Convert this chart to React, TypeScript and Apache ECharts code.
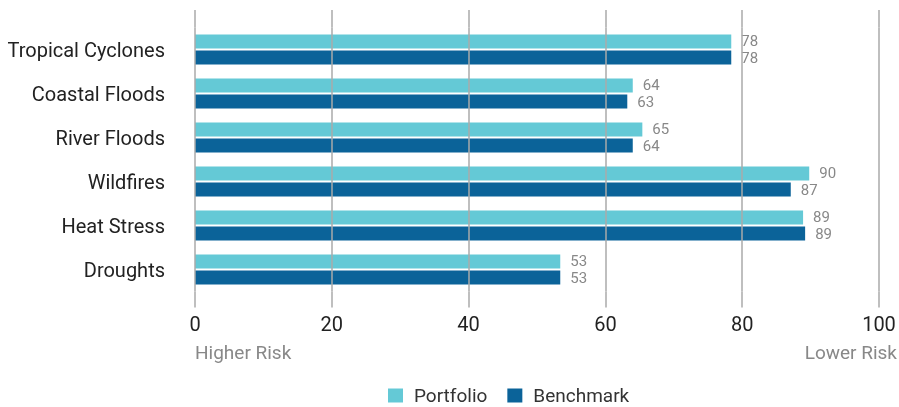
import React, { useEffect, useRef } from "react";
import * as echarts from "echarts";

const categories = ["Tropical Cyclones", "Coastal Floods", "River Floods", "Wildfires", "Heat Stress", "Droughts"];
const portfolio = [78.4, 64.0, 65.4, 89.8, 88.9, 53.4];
const benchmark = [78.4, 63.2, 64.0, 87.1, 89.2, 53.4];
const seriesNames = ["Portfolio", "Benchmark"];
const axisEnds = ["Higher Risk", "Lower Risk"];

const FONT = "Roboto, 'Noto Sans', sans-serif";
const GRID = "#aaaaaa";

export default function App() {
  const ref = useRef<HTMLDivElement>(null);
  useEffect(() => {
    if (!ref.current) return;
    const chart = echarts.init(ref.current, null, { renderer: "svg" });
    const label = {
      show: true,
      position: "right",
      distance: 10,
      color: "#888888",
      fontSize: 15,
      lineHeight: 14,
      fontFamily: FONT,
      formatter: (p: any) => String(Math.round(p.value)),
    };
    chart.setOption({
      animation: false,
      textStyle: { fontFamily: FONT },
      grid: { left: 195, right: 20, top: 27.5, bottom: 115.5, containLabel: false },
      xAxis: [
        {
          type: "value",
          position: "bottom",
          min: 0,
          max: 100,
          interval: 20,
          z: 3,
          axisLine: { show: false },
          axisTick: { show: true, length: 16, lineStyle: { color: GRID, width: 1.5 } },
          splitLine: { show: true, lineStyle: { color: GRID, width: 1.5 } },
          axisLabel: { color: "#222222", fontSize: 20, margin: 22, fontFamily: FONT },
        },
        {
          type: "value",
          position: "top",
          min: 0,
          max: 100,
          interval: 20,
          z: 3,
          axisLine: { show: false },
          axisTick: { show: true, length: 17.5, lineStyle: { color: GRID, width: 1.5 } },
          splitLine: { show: false },
          axisLabel: { show: false },
        },
      ],
      yAxis: {
        type: "category",
        data: categories,
        inverse: true,
        axisLine: { show: false },
        axisTick: { show: false },
        axisLabel: { color: "#222222", fontSize: 20, margin: 30, fontFamily: FONT },
      },
      legend: {
        top: 381,
        left: 383,
        itemWidth: 15,
        itemHeight: 14,
        itemGap: 20,
        icon: "rect",
        textStyle: { color: "#333333", fontSize: 19, lineHeight: 18, fontFamily: FONT, padding: [0, 0, 0, 6] },
        data: seriesNames,
      },
      graphic: [
        {
          type: "text",
          left: 195,
          top: 343,
          style: { text: axisEnds[0], fill: "#888888", fontSize: 19, fontFamily: FONT },
        },
        {
          type: "text",
          right: 2,
          top: 343,
          style: { text: axisEnds[1], fill: "#888888", fontSize: 19, fontFamily: FONT },
        },
      ],
      series: [
        {
          name: seriesNames[0],
          type: "bar",
          data: portfolio,
          barWidth: 14,
          barGap: "15%",
          itemStyle: { color: "#64c9d6" },
          label,
        },
        {
          name: seriesNames[1],
          type: "bar",
          data: benchmark,
          barWidth: 14,
          itemStyle: { color: "#0b6399" },
          label,
        },
      ],
    });
    return () => chart.dispose();
  }, []);
  return <div ref={ref} style={{ width: 899, height: 407, position: "fixed", left: 0, top: 0 }} />;
}
